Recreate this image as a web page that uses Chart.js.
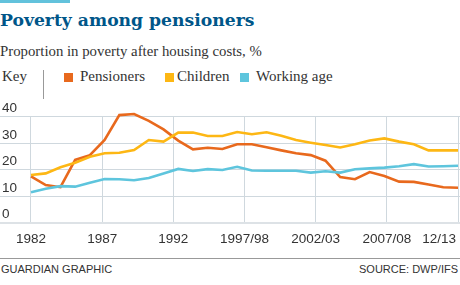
<!DOCTYPE html>
<html>
<head>
<meta charset="utf-8">
<script src="https://cdn.jsdelivr.net/npm/chart.js@4/dist/chart.umd.min.js"></script>
<style>
  body { margin: 0; background: #fff; }
  #page { position: relative; width: 460px; height: 285px; overflow: hidden; }
  .abs { position: absolute; white-space: nowrap; }
  #topbar { left: 0; top: 0; width: 70px; height: 3px; background: #62c2dc; }
  #title { left: 0; top: 8px; font: bold 17.2px/24px "DejaVu Serif"; color: #005689; }
  #subtitle { left: 0; top: 42px; font: 14.8px/18px "Liberation Serif"; color: #333; }
  .key { top: 67px; font: 15px/18px "Liberation Serif"; color: #333; }
  .swatch { top: 72.5px; width: 9px; height: 9px; }
  #sep { left: 43px; top: 70px; width: 1px; height: 29px; background: #999; }
  #chartBox { left: 0; top: 96px; width: 460px; height: 160px; }
  #rule { left: 0; top: 258px; width: 460px; height: 1px; background: #999; }
  .foot { top: 263px; font: 11px/12px "Liberation Sans"; color: #333; }
</style>
</head>
<body>
<div id="page">
  <div id="topbar" class="abs"></div>
  <div id="title" class="abs">Poverty among pensioners</div>
  <div id="subtitle" class="abs">Proportion in poverty after housing costs, %</div>
  <div class="abs key" style="left:2px">Key</div>
  <div id="sep" class="abs"></div>
  <div class="abs swatch" style="left:64px;background:#e8691d"></div>
  <div class="abs key" style="left:80px">Pensioners</div>
  <div class="abs swatch" style="left:165px;background:#fdb714"></div>
  <div class="abs key" style="left:177px">Children</div>
  <div class="abs swatch" style="left:240px;background:#5ec5dd"></div>
  <div class="abs key" style="left:256px">Working age</div>
  <div id="chartBox" class="abs"><canvas id="chart"></canvas></div>
  <div id="rule" class="abs"></div>
  <div class="abs foot" style="left:1px">GUARDIAN GRAPHIC</div>
  <div class="abs foot" style="right:2px">SOURCE: DWP/IFS</div>
</div>
<script>
// survey years (calendar years to 1992, then financial years)
const years = ['1982','1983','1984','1985','1986','1987','1988','1989','1990','1991','1992',
  '1994/95','1995/96','1996/97','1997/98','1998/99','1999/00','2000/01','2001/02','2002/03',
  '2003/04','2004/05','2005/06','2006/07','2007/08','2008/09','2009/10','2010/11','2011/12','2012/13'];

const pensioners = [17.5,14.2,13.4,23.7,25.5,31.2,40.6,41.0,38.4,35.2,31.0,27.7,28.3,27.8,29.6,
  29.6,28.5,27.3,26.2,25.5,23.4,17.2,16.4,19.1,17.6,15.5,15.4,14.4,13.4,13.2];
const children = [18.0,18.6,20.9,22.6,24.9,26.2,26.4,27.4,31.2,30.6,34.0,34.0,32.7,32.7,34.2,
  33.4,34.1,32.8,31.2,30.2,29.3,28.4,29.6,31.0,31.8,30.6,29.6,27.3,27.3,27.3];
const workingAge = [11.5,12.8,13.8,13.6,15.1,16.5,16.4,16.0,16.9,18.6,20.3,19.5,20.2,19.9,21.1,
  19.7,19.6,19.6,19.6,18.9,19.4,18.9,20.2,20.5,20.8,21.3,22.1,21.2,21.3,21.5];

const xTickLabels = ['1982','1987','1992','1997/98','2002/03','2007/08','12/13'];
const yTicks = [0,10,20,30,40];

const colors = { pensioners: '#e8691d', children: '#fdb714', working: '#5ec5dd' };
const gridColor = '#cfd8de';

const lastIdx = years.length - 1;
const xTickPos = xTickLabels.map((l, k) => lastIdx * k / (xTickLabels.length - 1));

function toPoints(arr) {
  return arr.map((v, i) => ({ x: i, y: v }));
}

function makeSet(label, arr, color) {
  return {
    label: label,
    data: toPoints(arr),
    borderColor: color,
    backgroundColor: color,
    borderWidth: 2.6,
    pointRadius: 0,
    tension: 0,
    fill: false,
    clip: false
  };
}

const labelPlugin = {
  id: 'labels',
  afterDraw(chart) {
    const ctx = chart.ctx;
    const xs = chart.scales.x;
    const ys = chart.scales.y;
    ctx.save();
    ctx.font = '13.5px "Liberation Sans"';
    ctx.fillStyle = '#333';
    ctx.textBaseline = 'middle';
    ctx.textAlign = 'left';
    yTicks.forEach(v => {
      ctx.fillText(String(v), 2, ys.getPixelForValue(v) - 8);
    });
    xTickLabels.forEach((l, k) => {
      const px = xs.getPixelForValue(xTickPos[k]);
      const w = ctx.measureText(l).width;
      if (px + w / 2 > chart.width - 4) {
        ctx.textAlign = 'right';
        ctx.fillText(l, chart.width - 4, 143.5);
      } else {
        ctx.textAlign = 'center';
        ctx.fillText(l, px, 143.5);
      }
    });
    ctx.restore();
  }
};

const config = {
  type: 'line',
  data: {
    datasets: [
      makeSet('Working age', workingAge, colors.working),
      makeSet('Children', children, colors.children),
      makeSet('Pensioners', pensioners, colors.pensioners)
    ]
  },
  options: {
    responsive: true,
    maintainAspectRatio: false,
    animation: false,
    devicePixelRatio: 1,
    layout: { padding: { top: 20.7, bottom: 33.3, left: 0, right: 0 } },
    plugins: { legend: { display: false }, tooltip: { enabled: false } },
    scales: {
      x: {
        type: 'linear',
        min: -2.105,
        max: 29.135,
        afterBuildTicks: axis => { axis.ticks = xTickPos.map(v => ({ value: v })); },
        ticks: { display: false },
        grid: { color: gridColor, lineWidth: 1, drawTicks: false },
        border: { display: false }
      },
      y: {
        min: 0,
        max: 40,
        afterBuildTicks: axis => { axis.ticks = yTicks.map(v => ({ value: v })); },
        ticks: { display: false },
        grid: {
          color: c => c.tick && c.tick.value === 0 ? '#dde2e6' : gridColor,
          lineWidth: c => c.tick && c.tick.value === 0 ? 2 : 1,
          drawTicks: false
        },
        border: { display: false }
      }
    }
  },
  plugins: [labelPlugin]
};

const povertyChart = new Chart(document.getElementById('chart').getContext('2d'), config);
</script>
</body>
</html>
